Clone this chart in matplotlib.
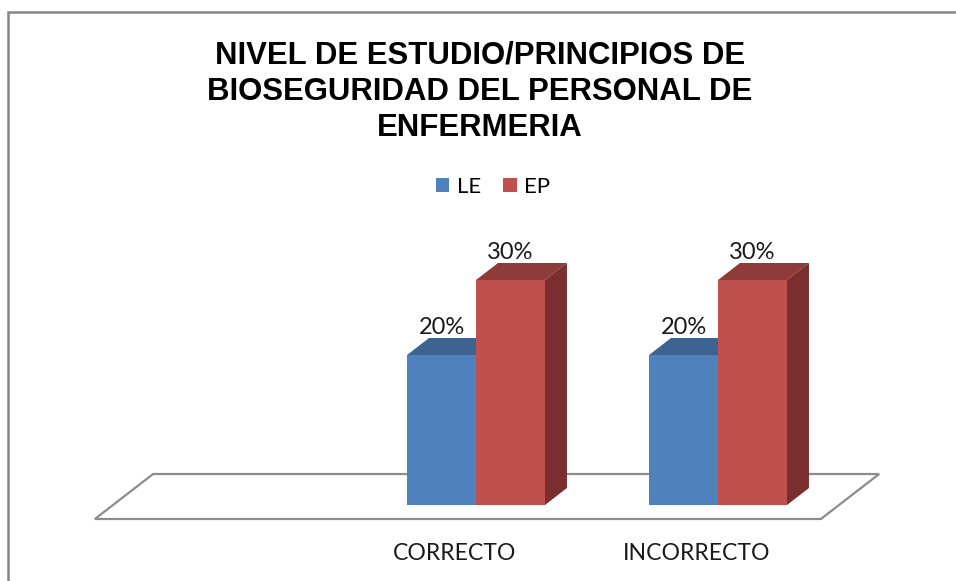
import matplotlib
matplotlib.use("Agg")
import matplotlib.pyplot as plt
from matplotlib.patches import Polygon, Rectangle
import numpy as np

categories = ["", "CORRECTO", "INCORRECTO"]
series_names = ["LE", "EP"]
le_values = [np.nan, 20, 20]
ep_values = [np.nan, 30, 30]
title = "NIVEL DE ESTUDIO/PRINCIPIOS DE\nBIOSEGURIDAD DEL PERSONAL DE\nENFERMERIA"

W, H = 956, 581
fig = plt.figure(figsize=(W / 100, H / 100), dpi=100)
ax = fig.add_axes([0, 0, 1, 1])
ax.set_xlim(1 - 476 / 242, 1 + 480 / 242)
ax.set_ylim(-76 / 7.5, 505 / 7.5)
ax.axis("off")

# depth vector (data units) for one bar depth
ddx, ddy = 22 / 242, 17 / 7.5
bw = 0.285

# floor
tf, tb = -14 / 17, 1 + 14 / 17
xl, xr = -0.5, len(categories) - 0.5
floor = Polygon([(xl + tf * ddx, tf * ddy), (xr + tf * ddx, tf * ddy),
                 (xr + tb * ddx, tb * ddy), (xl + tb * ddx, tb * ddy)],
                closed=True, facecolor="none", edgecolor="#8c8c8c", lw=1.6, zorder=1)
ax.add_patch(floor)

colors = [("#4F81BD", "#3D6391", "#34567f"), ("#C0504D", "#8F3B39", "#7A2F2E")]
x = np.arange(len(categories))
handles = []
for si, (vals, name) in enumerate([(le_values, "LE"), (ep_values, "EP")]):
    front, top, side = colors[si]
    offs = (si - 0.5) * bw
    z = 2 + si * 3
    b = ax.bar(x + offs, vals, width=bw, color=front, label=name, zorder=z + 2, lw=0)
    handles.append(b)
    for xi, v in zip(x, vals):
        if np.isnan(v):
            continue
        x0 = xi + offs - bw / 2
        x1 = xi + offs + bw / 2
        ax.add_patch(Polygon([(x0, v), (x1, v), (x1 + ddx, v + ddy), (x0 + ddx, v + ddy)],
                             closed=True, facecolor=top, lw=0, zorder=z))
        ax.add_patch(Polygon([(x1, 0), (x1 + ddx, ddy), (x1 + ddx, v + ddy), (x1, v)],
                             closed=True, facecolor=side, lw=0, zorder=z + 1))
        ax.text(xi + offs, v + 3.7, f"{v:.0f}%", ha="center", va="center",
                fontsize=17, family="Lato", color="#1a1a1a", zorder=10)

for xi, c in zip(x, categories):
    ax.text(xi + tf * ddx - 0.012, -6.4, c, ha="center", va="center",
            fontsize=16.6, family="Lato", color="#1a1a1a")

fig.text(480 / W, 1 - 41 / H, title, ha="center", va="top", fontsize=22.4,
         fontweight="bold", family="Liberation Sans", linespacing=1.25)

leg = fig.legend(handles=handles, labels=series_names, loc="center",
                 bbox_to_anchor=(493 / W, 1 - 187 / H), ncol=2, frameon=False,
                 prop={"family": "Lato", "size": 16}, handlelength=0.6,
                 handleheight=0.6, handletextpad=0.35, columnspacing=1.0)

fig.add_artist(Rectangle((8 / W, -0.1), 1.2, 1 - 12 / H + 0.1, transform=fig.transFigure,
                         facecolor="none", edgecolor="#868686", lw=1.8))

fig.savefig("out.png", dpi=100)
